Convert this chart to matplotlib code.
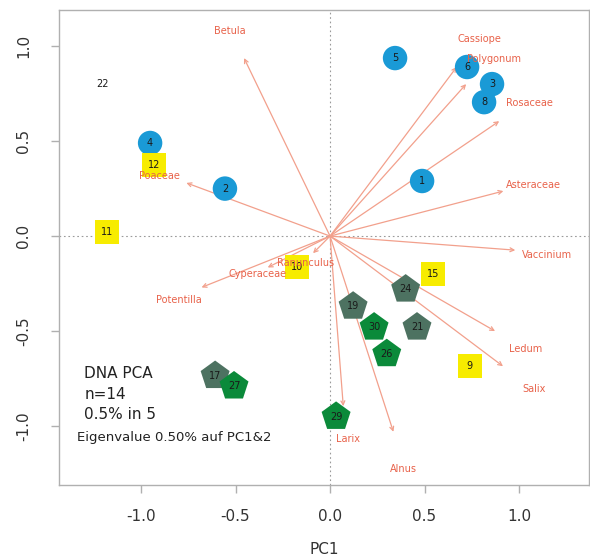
import matplotlib
matplotlib.use("Agg")
import matplotlib.pyplot as plt

# ---- data ----
blue_ids = ["5", "6", "3", "8", "1", "4", "2"]
blue_x = [0.344, 0.725, 0.857, 0.815, 0.487, -0.952, -0.556]
blue_y = [0.937, 0.890, 0.800, 0.705, 0.290, 0.490, 0.250]

yellow_ids = ["12", "11", "10", "15", "9"]
yellow_x = [-0.93, -1.18, -0.175, 0.545, 0.74]
yellow_y = [0.375, 0.02, -0.165, -0.20, -0.685]

gray_ids = ["24", "19", "21", "17"]
gray_x = [0.40, 0.122, 0.46, -0.608]
gray_y = [-0.28, -0.37, -0.48, -0.735]

green_ids = ["30", "26", "29", "27"]
green_x = [0.233, 0.30, 0.032, -0.508]
green_y = [-0.48, -0.62, -0.95, -0.79]

plain_ids = ["22"]
plain_x = [-1.206]
plain_y = [0.80]

species = ["Betula", "Poaceae", "Cassiope", "Polygonum", "Rosaceae", "Asteraceae",
           "Vaccinium", "Ledum", "Salix", "Larix", "Alnus", "Potentilla",
           "Cyperaceae", "Ranunculus"]
arrow_x = [-0.455, -0.76, 0.67, 0.72, 0.895, 0.917, 0.98, 0.873, 0.915, 0.07, 0.335, -0.68, -0.33, -0.09]
arrow_y = [0.937, 0.28, 0.89, 0.80, 0.605, 0.237, -0.074, -0.50, -0.685, -0.895, -1.03, -0.27, -0.165, -0.09]
label_x = [-0.53, -0.905, 0.79, 0.865, 1.055, 1.075, 1.15, 1.035, 1.08, 0.095, 0.39, -0.80, -0.385, -0.13]
label_y = [1.08, 0.315, 1.04, 0.93, 0.70, 0.268, -0.10, -0.595, -0.805, -1.07, -1.225, -0.335, -0.20, -0.14]

x_ticks = [-1.0, -0.5, 0.0, 0.5, 1.0]
y_ticks = [-1.0, -0.5, 0.0, 0.5, 1.0]

info_lines = ["DNA PCA", "n=14", "0.5% in 5"]
eigen_text = "Eigenvalue 0.50% auf PC1&2"

# ---- figure ----
fig = plt.figure(figsize=(5.9, 5.58), dpi=100)
W, H = 590, 558
left, right, top, bottom = 59, 589, 10, 485
ax = fig.add_axes([left / W, 1 - bottom / H, (right - left) / W, (bottom - top) / H])
ax.set_xlim(-1.434, 1.370)
ax.set_ylim(-1.31, 1.19)

frame_col = "#b0b0b0"
for s in ax.spines.values():
    s.set_color(frame_col)
    s.set_linewidth(1.0)

ax.axhline(0, color="#9a9a9a", lw=0.8, ls=(0, (1.5, 2.5)), zorder=1)
ax.axvline(0, color="#9a9a9a", lw=0.8, ls=(0, (1.5, 2.5)), zorder=1)

arrow_col = "#f2a08c"
label_col = "#e8624a"
for name, ax_, ay_, lx, ly in zip(species, arrow_x, arrow_y, label_x, label_y):
    ax.annotate("", xy=(ax_, ay_), xytext=(0, 0),
                arrowprops=dict(arrowstyle="->", color=arrow_col, lw=0.9,
                                shrinkA=0, shrinkB=0, mutation_scale=7),
                zorder=2)
    ax.text(lx, ly, name, color=label_col, fontsize=7, ha="center", va="center", zorder=6)

ax.scatter(blue_x, blue_y, s=310, marker="o", color="#1a9ad6", edgecolors="none", zorder=4)
ax.scatter(yellow_x, yellow_y, s=300, marker="s", color="#f7ec00", edgecolors="none", zorder=4)
ax.scatter(gray_x, gray_y, s=480, marker="p", color="#4d7261", edgecolors="none", zorder=4)
ax.scatter(green_x, green_y, s=480, marker="p", color="#0b8a3a", edgecolors="none", zorder=4)

for ids, xs, ys in [(blue_ids, blue_x, blue_y), (yellow_ids, yellow_x, yellow_y),
                    (gray_ids, gray_x, gray_y), (green_ids, green_x, green_y),
                    (plain_ids, plain_x, plain_y)]:
    for t, x, y in zip(ids, xs, ys):
        ax.text(x, y, t, fontsize=7, color="#1a1a1a", ha="center", va="center", zorder=5)

ax.set_xticks(x_ticks)
ax.set_yticks(y_ticks)
ax.set_xticklabels([f"{v:.1f}" for v in x_ticks])
ax.set_yticklabels([f"{v:.1f}" for v in y_ticks], rotation=90, va="center")
ax.tick_params(axis="both", colors=frame_col, labelcolor="#333333", labelsize=11,
               length=6, width=1.0)
ax.tick_params(axis="x", pad=11)
ax.tick_params(axis="y", pad=14)
ax.set_xlabel("PC1", fontsize=11, color="#333333", labelpad=13)

for i, line in enumerate(info_lines):
    ax.text(-1.30, -0.725 - i * 0.108, line, fontsize=11, color="#222222",
            ha="left", va="center")
ax.text(-1.34, -1.06, eigen_text, fontsize=9.5, color="#222222", ha="left", va="center")

fig.savefig("out.png", dpi=100)
